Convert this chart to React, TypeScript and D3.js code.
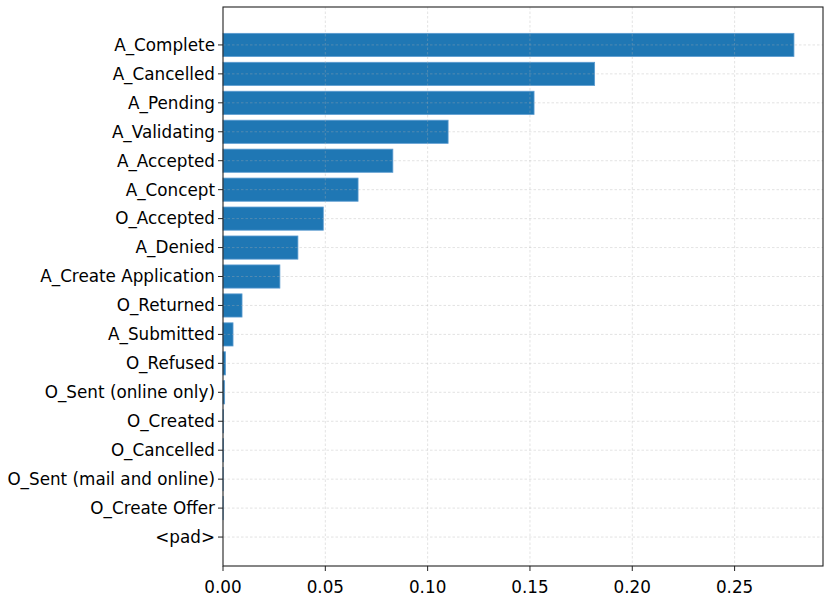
import { useEffect, useRef } from 'react';
import * as d3 from 'd3';

const categories = [
  'A_Complete', 'A_Cancelled', 'A_Pending', 'A_Validating', 'A_Accepted', 'A_Concept',
  'O_Accepted', 'A_Denied', 'A_Create Application', 'O_Returned', 'A_Submitted', 'O_Refused',
  'O_Sent (online only)', 'O_Created', 'O_Cancelled', 'O_Sent (mail and online)', 'O_Create Offer', '<pad>',
];
const values = [
  0.279, 0.1816, 0.152, 0.110, 0.083, 0.066,
  0.049, 0.0366, 0.0278, 0.0093, 0.0049, 0.0012,
  0.0008, 0.0002, 0.0002, 0.0001, 0.0001, 0,
];
const xTicks = [0, 0.05, 0.1, 0.15, 0.2, 0.25];

const W = 831;
const H = 606;
const margin = { left: 223, right: 8, top: 7, bottom: 40 };

export default function App() {
  const svgRef = useRef<SVGSVGElement>(null);

  useEffect(() => {
    if (!svgRef.current) return;
    const svg = d3.select(svgRef.current);
    svg.selectAll('*').remove();

    const x0 = margin.left;
    const x1 = W - margin.right;
    const y0 = margin.top;
    const y1 = H - margin.bottom;

    const x = d3.scaleLinear().domain([0, 0.2932]).range([x0, x1]);
    // index scale: top margin ~1.31 slots, bottom ~1.0 slot
    const y = d3.scaleLinear().domain([-1.31, categories.length - 1 + 1.0]).range([y0, y1]);
    const barH = (y(0.8) - y(0));

    const data = categories.map((c, i) => ({ c, v: values[i], i }));

    // bars
    svg.append('g')
      .selectAll('rect')
      .data(data)
      .join('rect')
      .attr('x', x(0))
      .attr('y', (d) => y(d.i) - barH / 2)
      .attr('width', (d) => x(d.v) - x(0))
      .attr('height', barH)
      .attr('fill', '#1f77b4')
      .attr('stroke', '#5b9bd0')
      .attr('stroke-width', 0.8);

    // grid on top
    const grid = svg.append('g')
      .attr('stroke', '#b0b0b0')
      .attr('stroke-opacity', 0.5)
      .attr('stroke-width', 0.7)
      .attr('stroke-dasharray', '2.5,2');
    grid.selectAll('line.gx')
      .data(xTicks.slice(1))
      .join('line')
      .attr('class', 'gx')
      .attr('x1', (d) => x(d))
      .attr('x2', (d) => x(d))
      .attr('y1', y0)
      .attr('y2', y1);
    grid.selectAll('line.gy')
      .data(data)
      .join('line')
      .attr('class', 'gy')
      .attr('x1', x0)
      .attr('x2', x1)
      .attr('y1', (d) => y(d.i))
      .attr('y2', (d) => y(d.i));

    // spines
    svg.append('rect')
      .attr('x', x0)
      .attr('y', y0)
      .attr('width', x1 - x0)
      .attr('height', y1 - y0)
      .attr('fill', 'none')
      .attr('stroke', '#222')
      .attr('stroke-width', 1.1);

    const font = 'DejaVu Sans, sans-serif';
    const fs = 16.8;

    // x axis ticks
    const xt = svg.append('g');
    xt.selectAll('line')
      .data(xTicks)
      .join('line')
      .attr('x1', (d) => x(d))
      .attr('x2', (d) => x(d))
      .attr('y1', y1)
      .attr('y2', y1 + 5)
      .attr('stroke', '#222')
      .attr('stroke-width', 1);
    xt.selectAll('text')
      .data(xTicks)
      .join('text')
      .attr('x', (d) => x(d))
      .attr('y', y1 + 27)
      .attr('text-anchor', 'middle')
      .attr('font-family', font)
      .attr('font-size', fs)
      .attr('fill', '#000')
      .text((d) => d3.format('.2f')(d));

    // y axis ticks
    const yt = svg.append('g');
    yt.selectAll('line')
      .data(data)
      .join('line')
      .attr('x1', x0 - 5)
      .attr('x2', x0)
      .attr('y1', (d) => y(d.i))
      .attr('y2', (d) => y(d.i))
      .attr('stroke', '#222')
      .attr('stroke-width', 1);
    yt.selectAll('text')
      .data(data)
      .join('text')
      .attr('x', x0 - 8)
      .attr('y', (d) => y(d.i))
      .attr('dy', '0.35em')
      .attr('text-anchor', 'end')
      .attr('font-family', font)
      .attr('font-size', fs)
      .attr('fill', '#000')
      .text((d) => d.c);
  }, []);

  return (
    <div style={{ position: 'absolute', left: 0, top: 0, background: '#fff' }}>
      <svg ref={svgRef} width={W} height={H} style={{ display: 'block' }} />
    </div>
  );
}
